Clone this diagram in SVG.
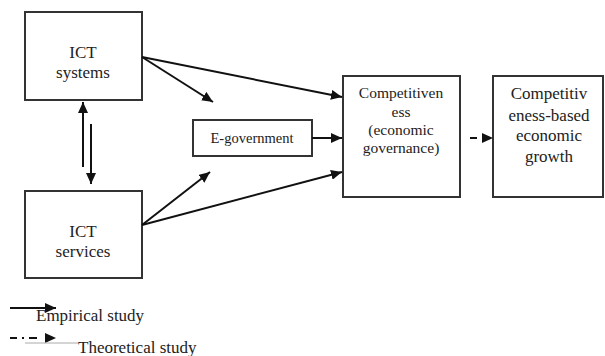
<svg xmlns="http://www.w3.org/2000/svg" width="605" height="356" viewBox="0 0 605 356">
<style>
.box{fill:#fff;stroke:#333;stroke-width:2}
.t{font-family:'Liberation Serif','Times New Roman',Tinos,'DejaVu Serif',serif;fill:#222;text-anchor:middle}
.l{font-family:'Liberation Serif','Times New Roman',Tinos,'DejaVu Serif',serif;fill:#222}
.c{stroke:#111;stroke-width:2;fill:none}
</style>
<defs>
<marker id="ah" markerUnits="userSpaceOnUse" markerWidth="11" markerHeight="10" refX="11" refY="5" orient="auto">
<path d="M0,0 L11,5 L0,10 z" fill="#111"/>
</marker>
</defs>
<rect width="605" height="356" fill="#fff"/>
<g id="ict-systems">
<rect class="box" x="25" y="12" width="117" height="88"/>
<text class="t" x="83" y="58" font-size="17">ICT</text>
<text class="t" x="83" y="78" font-size="17">systems</text>
</g>
<g id="ict-services">
<rect class="box" x="25" y="191" width="117" height="87"/>
<text class="t" x="83" y="237" font-size="17">ICT</text>
<text class="t" x="83" y="257" font-size="17">services</text>
</g>
<g id="e-government">
<rect class="box" x="193" y="120" width="119" height="36"/>
<text class="t" x="252" y="143" font-size="14.5">E-government</text>
</g>
<g id="competitiveness">
<rect class="box" x="343" y="76" width="117" height="121"/>
<text class="t" x="401" y="98" font-size="15.5">Competitiven</text>
<text class="t" x="401" y="117" font-size="15.5">ess</text>
<text class="t" x="401" y="135" font-size="15.5">(economic</text>
<text class="t" x="401" y="153" font-size="15.5">governance)</text>
</g>
<g id="growth">
<rect class="box" x="493" y="76" width="110" height="121"/>
<text class="t" x="549" y="99" font-size="17">Competitiv</text>
<text class="t" x="549" y="121" font-size="17">eness-based</text>
<text class="t" x="549" y="141" font-size="17">economic</text>
<text class="t" x="549" y="162" font-size="17">growth</text>
</g>
<g id="connectors">
<line class="c" x1="83" y1="167" x2="83" y2="102" marker-end="url(#ah)"/>
<line class="c" x1="91" y1="124" x2="91" y2="184" marker-end="url(#ah)"/>
<line class="c" x1="142" y1="57" x2="342" y2="97" marker-end="url(#ah)"/>
<line class="c" x1="142" y1="57" x2="213" y2="102" marker-end="url(#ah)"/>
<line class="c" x1="142" y1="225" x2="210" y2="172" marker-end="url(#ah)"/>
<line class="c" x1="142" y1="225" x2="342" y2="172" marker-end="url(#ah)"/>
<line class="c" x1="312" y1="138" x2="342" y2="138" marker-end="url(#ah)"/>
<line class="c" x1="470" y1="138" x2="493" y2="138" stroke-dasharray="7,6" marker-end="url(#ah)"/>
</g>
<g id="legend">
<line class="c" x1="10" y1="308" x2="56" y2="308" marker-end="url(#ah)"/>
<text class="l" x="36" y="321" font-size="17">Empirical study</text>
<line class="c" x1="10" y1="338" x2="56" y2="338" stroke-dasharray="7,5,2,5,8,30" marker-end="url(#ah)"/>
<line x1="25" y1="343" x2="78" y2="343" stroke="#aaa" stroke-width="1"/>
<text class="l" x="78" y="353" font-size="17">Theoretical study</text>
</g>
</svg>
